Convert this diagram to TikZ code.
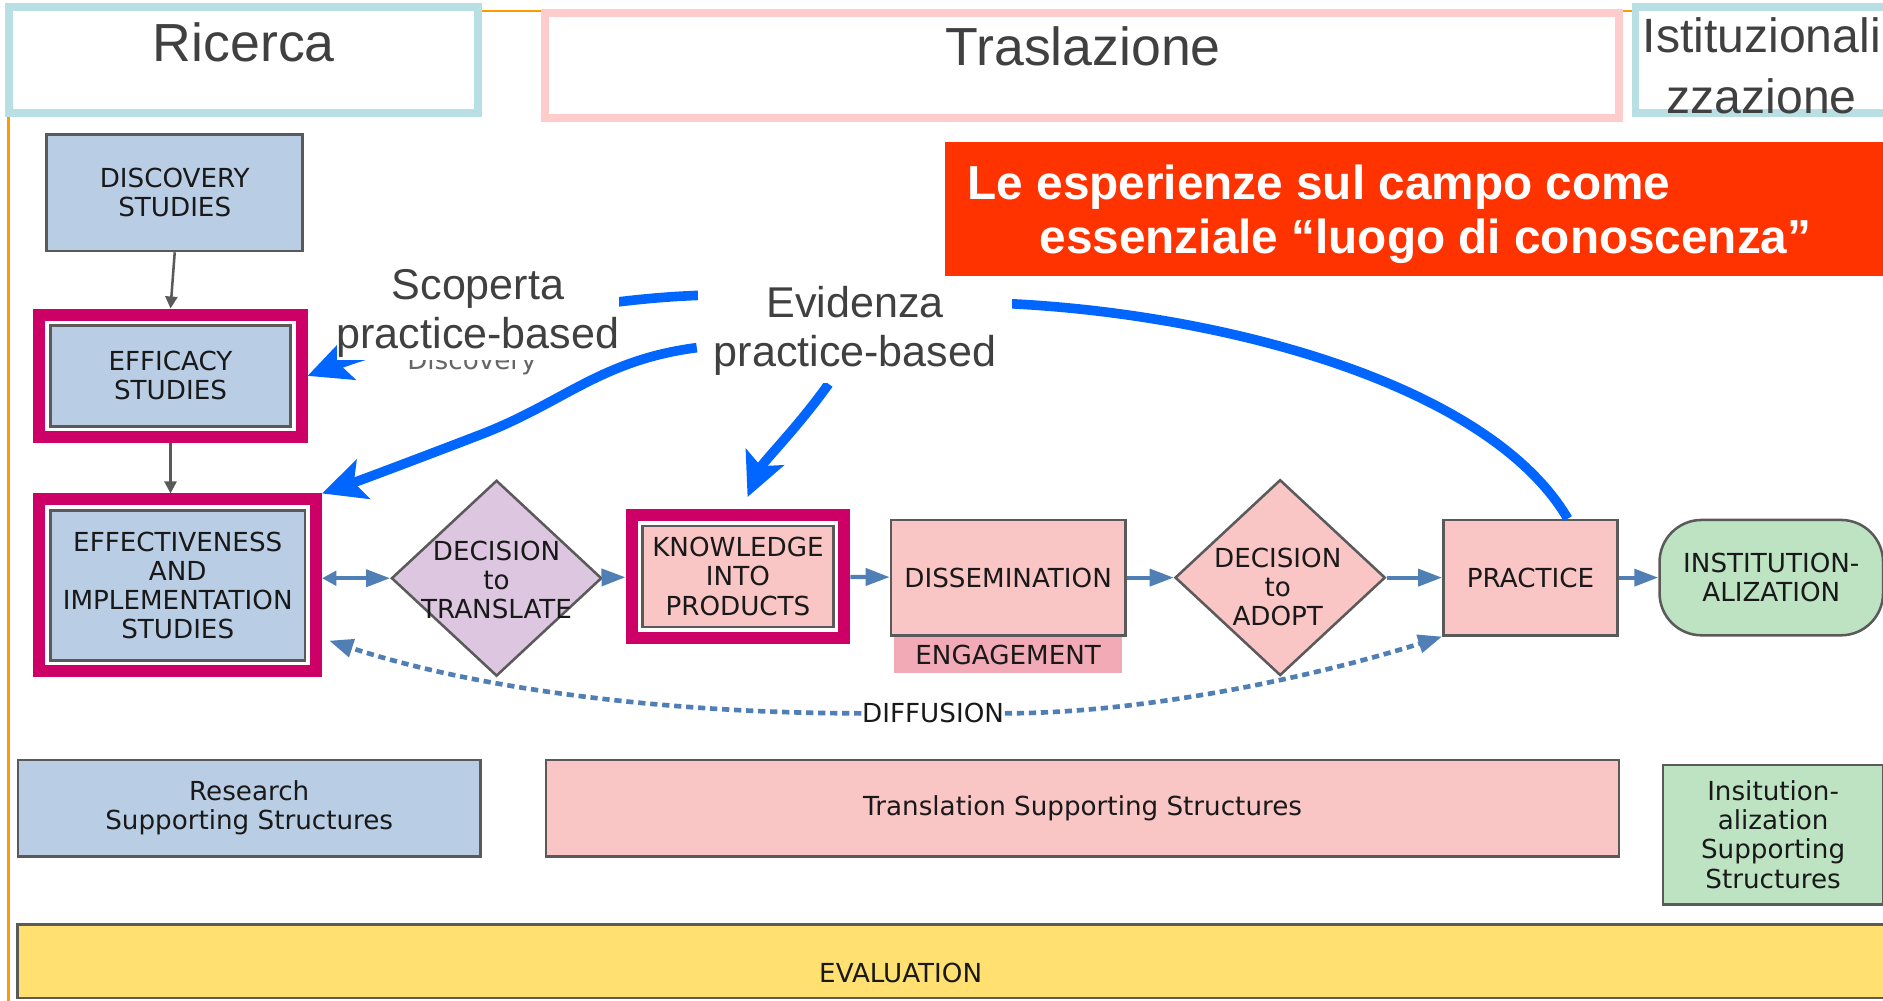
\documentclass[tikz,border=0pt]{standalone}
\usepackage{fontspec}
\setmainfont{Liberation Sans}
\newfontfamily\diagfont{DejaVu Sans}
\newcommand\diagtext{\diagfont\fontsize{6.2}{6.9}\selectfont}
\usetikzlibrary{shapes.geometric,arrows.meta,calc,fit,positioning}

\definecolor{boxblue}{HTML}{B9CDE5}
\definecolor{boxpink}{HTML}{F9C5C5}
\definecolor{engpink}{HTML}{F2AAB6}
\definecolor{boxpurple}{HTML}{DCC6E0}
\definecolor{boxgreen}{HTML}{BDE3C3}
\definecolor{boxyellow}{HTML}{FFE070}
\definecolor{edgegray}{HTML}{5A5A5A}
\definecolor{linkblue}{HTML}{4F7FB5}
\definecolor{magentared}{HTML}{CC0066}
\definecolor{brightblue}{HTML}{0066FF}
\definecolor{bannerred}{HTML}{FF3300}
\definecolor{framecyan}{HTML}{B8DFE3}
\definecolor{framepink}{HTML}{FFCCCC}
\definecolor{frameorange}{HTML}{FF9900}
\definecolor{titlegray}{HTML}{404040}

\pgfdeclarelayer{front}
\pgfsetlayers{main,front}

\begin{document}
\begin{tikzpicture}[x=0.01cm, y=-0.01cm,
		diagbox/.style={draw=edgegray, line width=0.6pt, align=center, inner sep=0pt, font=\diagtext, text=black!90},
		resbox/.style={diagbox, fill=boxblue},
		transbox/.style={diagbox, fill=boxpink},
		decision/.style={diagbox, diamond, fill=boxpink, minimum width=1.75cm, minimum height=1.63cm},
		diagtxt/.style={align=center, inner sep=0pt, font=\diagtext, text=black!90},
		hilite/.style={draw=magentared, line width=0.1cm, inner sep=0.08cm},
		link/.style={linkblue, line width=1pt, -{Triangle[length=0.2cm,width=0.14cm]}},
		diffusion/.style={linkblue, line width=1.1pt, dash pattern=on 0.06cm off 0.04cm, -{Triangle[length=0.2cm,width=0.15cm]}},
		fieldarrow/.style={brightblue, line width=0.08cm, -{Stealth[length=0.36cm,width=0.34cm,inset=0.08cm]}},
		topframe/.style={line width=0.065cm, fill=white},
		toptitle/.style={inner sep=0pt, text=titlegray, font=\fontsize{12.7}{14.5}\selectfont},
		tag/.style={fill=white, inner sep=0pt, align=center, text=titlegray, font=\fontsize{10.2}{11.4}\selectfont}]
		
		% draw background and frame
		\fill[white] (0,0) rectangle (1568,833.5);
		\useasboundingbox (0,0) rectangle (1568,833.5);
		\draw[frameorange, line width=0.6pt] (7,833.5) -- (7,9) -- (1568,9);
		
		% draw top titles
		\node[topframe, draw=framecyan, minimum width=3.905cm, minimum height=0.88cm] (ricerca) at (203,50) {};
		\node[toptitle] (ricercatxt) at (203,35) {Ricerca};
		\node[topframe, draw=framepink, minimum width=8.94cm, minimum height=0.87cm] (trasl) at (901,54.5) {};
		\node[toptitle] (trasltxt) at (902,39) {Traslazione};
		\node[topframe, draw=framecyan, minimum width=2.23cm, minimum height=0.88cm] (istit) at (1473.5,50) {};
		\node[toptitle, align=center, font=\fontsize{11.4}{14.5}\selectfont] (istittxt) at (1467,55) {Istituzionali\\zzazione};
		
		% draw banner
		\node[fill=bannerred, inner sep=0pt, minimum width=7.93cm, minimum height=1.12cm] (banner) at (1183.5,174) {};
		\node[anchor=north west, inner sep=0pt, align=left, text=white, font=\bfseries\fontsize{11.3}{12.8}\selectfont] (bannertxt) at (805,137) {Le esperienze sul campo come\\\hspace*{0.6cm}essenziale “luogo di conoscenza”};
		
		% draw stages
		\node[resbox, minimum width=2.13cm, minimum height=0.97cm] (disc) at (145.5,160.5) {DISCOVERY\\STUDIES};
		\node[resbox, minimum width=2cm, minimum height=0.84cm] (effic) at (142,313) {EFFICACY\\STUDIES};
		\node[resbox, minimum width=2.12cm, minimum height=1.25cm] (effect) at (148,487.5) {EFFECTIVENESS\\AND\\IMPLEMENTATION\\STUDIES};
		\node[decision, fill=boxpurple] (transl) at (413.5,481.5) {};
		\node[diagtxt] (transltxt) at (413.5,483) {DECISION\\to\\TRANSLATE};
		\node[transbox, minimum width=1.59cm, minimum height=0.84cm] (know) at (614.5,480) {KNOWLEDGE\\INTO\\PRODUCTS};
		\node[transbox, minimum width=1.95cm, minimum height=0.96cm] (dissem) at (839.5,481) {DISSEMINATION};
		\node[fill=engpink, inner sep=0pt, minimum width=1.9cm, minimum height=0.3cm, font=\diagtext, text=black!90, below=0pt of dissem] (engage) {ENGAGEMENT};
		\node[decision] (adopt) at (1066,481) {};
		\node[diagtxt] (adopttxt) at (1064,489) {DECISION\\to\\ADOPT};
		\node[transbox, minimum width=1.45cm, minimum height=0.96cm] (prac) at (1274.5,481) {PRACTICE};
		\node[diagbox, fill=boxgreen, rounded corners=0.35cm, minimum width=1.86cm, minimum height=0.96cm] (inst) at (1475,481) {INSTITUTION-\\ALIZATION};
		
		% draw highlight frames
		\node[hilite, fit=(effic)] (efficfr) {};
		\node[hilite, fit=(effect)] (effectfr) {};
		\node[hilite, fit=(know)] (knowfr) {};
		
		% draw links
		\draw[edgegray, line width=0.6pt, -{Triangle[length=0.1cm,width=0.1cm]}] (disc.south) -- (efficfr.north);
		\draw[edgegray, line width=0.6pt, -{Triangle[length=0.1cm,width=0.1cm]}] (efficfr.south) -- (efficfr.south |- effectfr.north);
		\draw[link, {Triangle[length=0.12cm,width=0.12cm]}-{Triangle[length=0.2cm,width=0.14cm]}] (effectfr.east |- transl.west) -- (transl.west);
		\draw[link] (transl) -- (knowfr);
		\draw[link] (knowfr) -- (dissem);
		\draw[link] (dissem) -- (adopt);
		\draw[link] (adopt) -- (prac);
		\draw[link] (prac) -- (inst);
		
		% draw diffusion
		\node[diagtxt] (diff) at (777,594) {DIFFUSION};
		\draw[diffusion] (diff.west) .. controls (560,594) and (400,575) .. ($(effectfr.east)+(6,46)$);
		\draw[diffusion] (diff.east) .. controls (950,594) and (1090,565) .. (prac.south west);
		
		% draw supporting structures
		\node[resbox, minimum width=3.85cm, minimum height=0.8cm] (rss) at (207.5,673) {Research\\Supporting Structures};
		\node[transbox, minimum width=8.93cm, minimum height=0.8cm] (tss) at (901.5,673) {Translation Supporting Structures};
		\node[diagbox, fill=boxgreen, minimum width=1.83cm, minimum height=1.16cm] (iss) at (1476.5,695) {Insitution-\\alization\\Supporting\\Structures};
		\node[diagbox, fill=boxyellow, minimum width=15.6cm, minimum height=0.61cm] (evalbar) at (795,800.5) {};
		\node[diagtxt] (evaltxt) at (750,810) {EVALUATION};
		
		% draw labels
		\node[diagtxt, text=black!60] (discoverylbl) at (393,302) {Discovery};
		\begin{pgfonlayer}{front}
			\node[tag, minimum width=2.34cm, minimum height=0.78cm] (scop) at (398,261) {Scoperta\\practice-based};
			\node[tag, minimum width=2.62cm, minimum height=0.87cm] (evid) at (712,275.5) {Evidenza\\practice-based};
		\end{pgfonlayer}
		
		% draw field arrows
		\draw[fieldarrow] ($(prac.north)+(31,0)$) .. controls (1240,320) and (1020,262) .. (843,253) -- (581,246) .. controls (470,250) and (330,285) .. (efficfr.east);
		\draw[fieldarrow] ($(evid.west)+(0,14)$) .. controls (500,300) and (470,335) .. (400,362) .. controls (340,385) and (300,400) .. (effectfr.north east);
		\draw[fieldarrow] ($(evid.south)+(-22,0)$) .. controls (665,355) and (635,385) .. ($(knowfr.north)+(8,-10)$);
		
\end{tikzpicture}
\end{document}
